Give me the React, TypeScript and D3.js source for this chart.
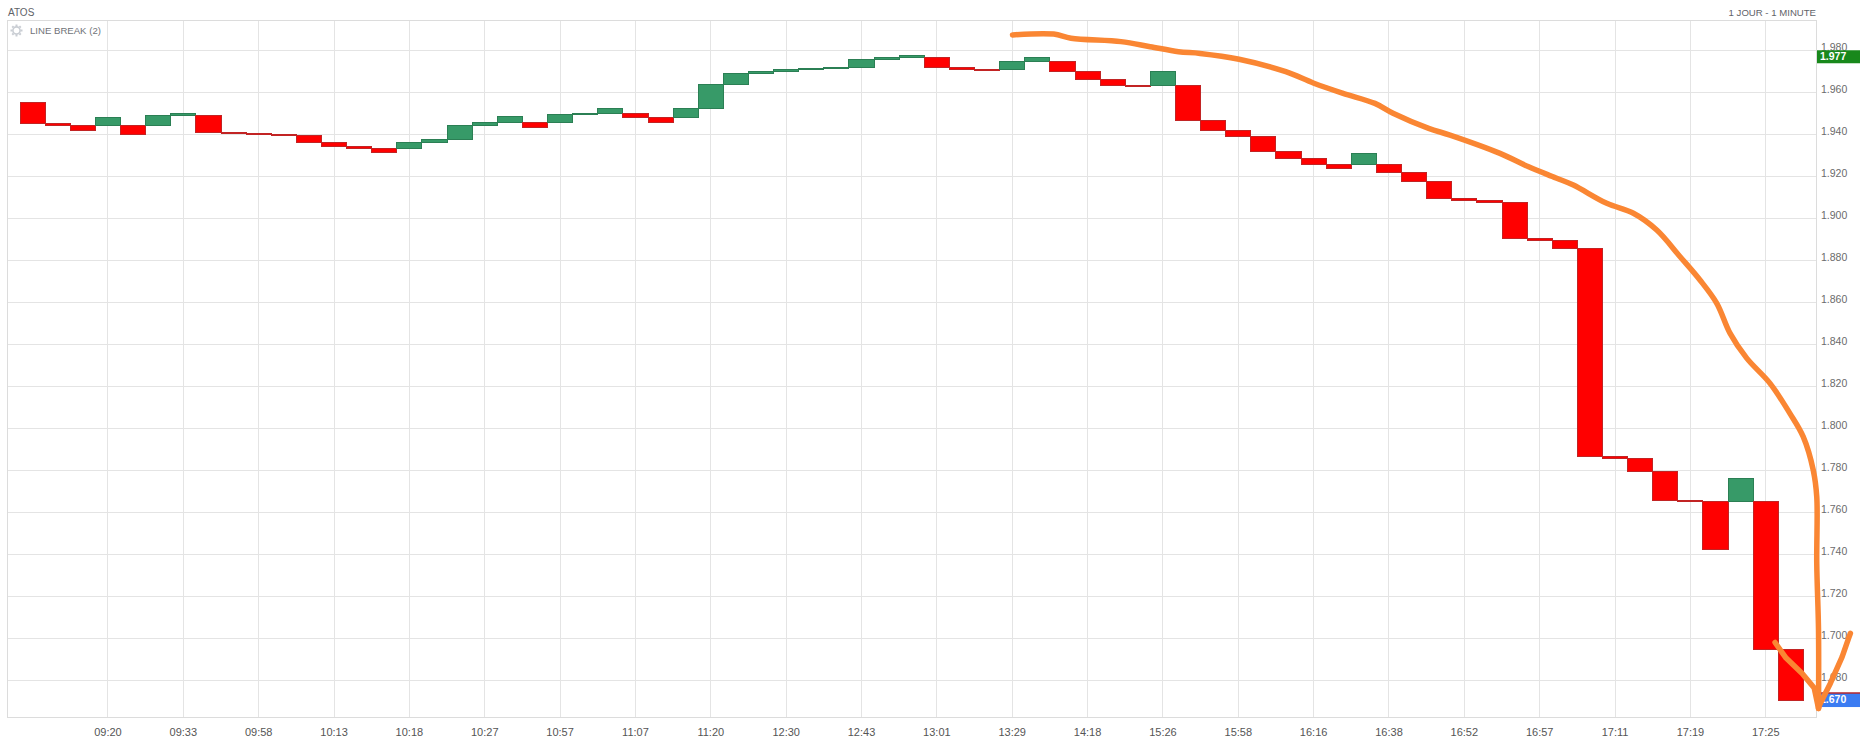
import React from 'react';
import * as d3 from 'd3';

// ---------- data ----------
const title = 'ATOS';
const subtitle = 'LINE BREAK (2)';
const periodLabel = '1 JOUR - 1 MINUTE';

const firstOpen = 1.9551;
const closes = [
  1.9451, 1.9442, 1.9418, 1.9482, 1.9399, 1.9491, 1.9501, 1.9408, 1.9405, 1.9400,
  1.9393, 1.9361, 1.9342, 1.9335, 1.9313, 1.9364, 1.9374, 1.9445, 1.9456, 1.9486,
  1.9431, 1.9496, 1.9502, 1.9525, 1.9480, 1.9456, 1.9523, 1.9636, 1.9691, 1.9699,
  1.9707, 1.9712, 1.9720, 1.9755, 1.9767, 1.9774, 1.9718, 1.9708, 1.9704, 1.9748,
  1.9767, 1.9699, 1.9663, 1.9634, 1.9629, 1.9702, 1.9465, 1.9418, 1.9389, 1.9320,
  1.9286, 1.9258, 1.9239, 1.9310, 1.9221, 1.9178, 1.9097, 1.9084, 1.9078, 1.8905,
  1.8897, 1.8858, 1.7868, 1.7858, 1.7797, 1.7656, 1.7651, 1.7426, 1.7761, 1.6948,
  1.6705,
];

const timeLabels = [
  '09:20', '09:33', '09:58', '10:13', '10:18', '10:27', '10:57', '11:07', '11:20',
  '12:30', '12:43', '13:01', '13:29', '14:18', '15:26', '15:58', '16:16', '16:38',
  '16:52', '16:57', '17:11', '17:19', '17:25',
];
const timeLabelStep = 3; // a label every 3 bricks, first at brick 3

const yTickLabels = [
  '1.680', '1.700', '1.720', '1.740', '1.760', '1.780', '1.800', '1.820',
  '1.840', '1.860', '1.880', '1.900', '1.920', '1.940', '1.960', '1.980',
];

const highValue = 1.977;
const lastValue = 1.670;

// hand-drawn orange annotation, in (brick index, price) space
const annotationCurve: [number, number][] = [
  [39.01, 1.9874], [40.65, 1.9878], [41.34, 1.9858], [43.33, 1.9842], [44.49, 1.9818],
  [45.62, 1.9794], [46.48, 1.9786], [48.03, 1.9758], [49.89, 1.9699], [51.01, 1.9644],
  [52.17, 1.9596], [53.44, 1.9548], [54.16, 1.9501], [55.58, 1.9429], [56.43, 1.9397],
  [58.42, 1.9310], [59.56, 1.9246], [60.65, 1.9193], [61.34, 1.9159], [62.67, 1.9072],
  [63.73, 1.9025], [64.66, 1.8945], [65.59, 1.8818], [66.38, 1.8707], [67.05, 1.8596],
  [67.58, 1.8453], [68.24, 1.8335], [69.17, 1.8215], [69.96, 1.8072], [70.49, 1.7961],
  [70.89, 1.7802], [71.03, 1.7675], [71.03, 1.7358], [71.10, 1.7040], [71.10, 1.6667],
];
const annotationArrow: [number, number][] = [
  [69.37, 1.6981], [69.81, 1.6907], [70.45, 1.6834], [70.93, 1.6764], [71.10, 1.6667],
  [71.17, 1.6691], [71.57, 1.6786], [72.04, 1.6913], [72.30, 1.7002], [72.37, 1.7025],
];

// ---------- layout ----------
const W = 1860;
const H = 737;
const plot = { left: 7.5, right: 1816, top: 20, bottom: 717.5 };
const yDomain: [number, number] = [1.6624, 1.9945];

const UP_FILL = '#379a68';
const UP_STROKE = '#2b7f54';
const DOWN_FILL = '#ff0000';
const DOWN_STROKE = '#c22424';

type Brick = { i: number; open: number; close: number; up: boolean };

function buildBricks(): Brick[] {
  const out: Brick[] = [];
  closes.forEach((c, i) => {
    if (i === 0) {
      out.push({ i, open: firstOpen, close: c, up: c > firstOpen });
      return;
    }
    const prev = out[i - 1];
    const up = c > prev.close;
    const open = up === prev.up ? prev.close : prev.open;
    out.push({ i, open, close: c, up });
  });
  return out;
}

function Gear({ cx, cy }: { cx: number; cy: number }) {
  const teeth = d3.range(8).map((k) => (k * Math.PI) / 4);
  return (
    <g stroke="#c9cdd3" strokeWidth={1.6} fill="none">
      <circle cx={cx} cy={cy} r={3.6} />
      {teeth.map((a, k) => (
        <line
          key={k}
          x1={cx + Math.cos(a) * 4.2}
          y1={cy + Math.sin(a) * 4.2}
          x2={cx + Math.cos(a) * 6}
          y2={cy + Math.sin(a) * 6}
          strokeWidth={2}
        />
      ))}
    </g>
  );
}

export default function App() {
  const x = d3.scaleLinear().domain([-1, closes.length]).range([plot.left, plot.right]);
  const y = d3.scaleLinear().domain(yDomain).range([plot.bottom, plot.top]);
  const bw = x(1) - x(0);
  const bricks = buildBricks();

  const labelIdx = timeLabels.map((_, k) => (k + 1) * timeLabelStep);

  const curveGen = d3
    .line<[number, number]>()
    .x((d) => x(d[0]))
    .y((d) => y(d[1]))
    .curve(d3.curveCatmullRom.alpha(0.5));
  const arrowGen = d3
    .line<[number, number]>()
    .x((d) => x(d[0]))
    .y((d) => y(d[1]))
    .curve(d3.curveLinear);

  const font = 'Arial, "Liberation Sans", Helvetica, sans-serif';
  const yHigh = y(highValue);
  const yLast = y(lastValue);

  return (
    <svg
      width={W}
      height={H}
      style={{ position: 'absolute', left: 0, top: 0, display: 'block', background: '#fff' }}
      fontFamily={font}
    >
      <rect x={0} y={0} width={W} height={H} fill="#fff" />

      {/* header */}
      <text x={8} y={15.5} fontSize={10} fill="#5f6368">{title}</text>
      <text x={plot.right} y={15.5} fontSize={9.6} fill="#5f6368" textAnchor="end">
        {periodLabel}
      </text>

      {/* grid */}
      <g stroke="#e4e4e4" strokeWidth={1} shapeRendering="crispEdges">
        {yTickLabels.map((t) => (
          <line key={t} x1={plot.left} x2={plot.right} y1={y(+t)} y2={y(+t)} />
        ))}
        {labelIdx.map((i) => (
          <line key={i} x1={x(i)} x2={x(i)} y1={plot.top} y2={plot.bottom} />
        ))}
      </g>
      <rect
        x={plot.left}
        y={plot.top}
        width={plot.right - plot.left}
        height={plot.bottom - plot.top}
        fill="none"
        stroke="#dcdcdc"
        strokeWidth={1}
        shapeRendering="crispEdges"
      />

      <Gear cx={16.5} cy={30.5} />
      <text x={30} y={34} fontSize={9.6} fill="#6f7378">{subtitle}</text>

      {/* bricks */}
      <g shapeRendering="crispEdges">
        {bricks.map((b) => {
          const top = y(Math.max(b.open, b.close));
          const bot = y(Math.min(b.open, b.close));
          return (
            <rect
              key={b.i}
              x={x(b.i) - bw / 2}
              y={top}
              width={bw}
              height={Math.max(0.5, bot - top)}
              fill={b.up ? UP_FILL : DOWN_FILL}
              stroke={b.up ? UP_STROKE : DOWN_STROKE}
              strokeWidth={1}
            />
          );
        })}
      </g>

      {/* x axis labels */}
      {labelIdx.map((i, k) => (
        <text key={i} x={x(i)} y={736} fontSize={11} fill="#555" textAnchor="middle">
          {timeLabels[k]}
        </text>
      ))}

      {/* y axis labels */}
      {yTickLabels.map((t) => (
        <text
          key={t}
          x={plot.right + 5}
          y={y(+t) - 2}
          fontSize={10.5}
          fill="#6b6b6b"
          dominantBaseline="middle"
        >
          {t}
        </text>
      ))}

      {/* high badge */}
      <rect x={plot.right + 1} y={yHigh - 6.5} width={W - plot.right - 1} height={13} fill="#18881b" />
      <text
        x={plot.right + 4}
        y={yHigh + 0.5}
        fontSize={10.5}
        fontWeight="bold"
        fill="#fff"
        dominantBaseline="middle"
      >
        {highValue.toFixed(3)}
      </text>

      {/* last value badge */}
      <rect x={plot.right + 1} y={yLast - 8.5} width={W - plot.right - 1} height={14} fill="#3b7cf2" />
      <line x1={plot.right} x2={W} y1={yLast - 8.5} y2={yLast - 8.5} stroke="#b3262d" strokeWidth={1.5} />
      <text
        x={plot.right + 4}
        y={yLast - 1}
        fontSize={10.5}
        fontWeight="bold"
        fill="#fff"
        dominantBaseline="middle"
      >
        {lastValue.toFixed(3)}
      </text>

      {/* hand-drawn annotation */}
      <g fill="none" stroke="#fa8633" strokeWidth={5.5} strokeLinecap="round" strokeLinejoin="round">
        <path d={curveGen(annotationCurve) || ''} />
        <path d={arrowGen(annotationArrow) || ''} />
      </g>
    </svg>
  );
}
